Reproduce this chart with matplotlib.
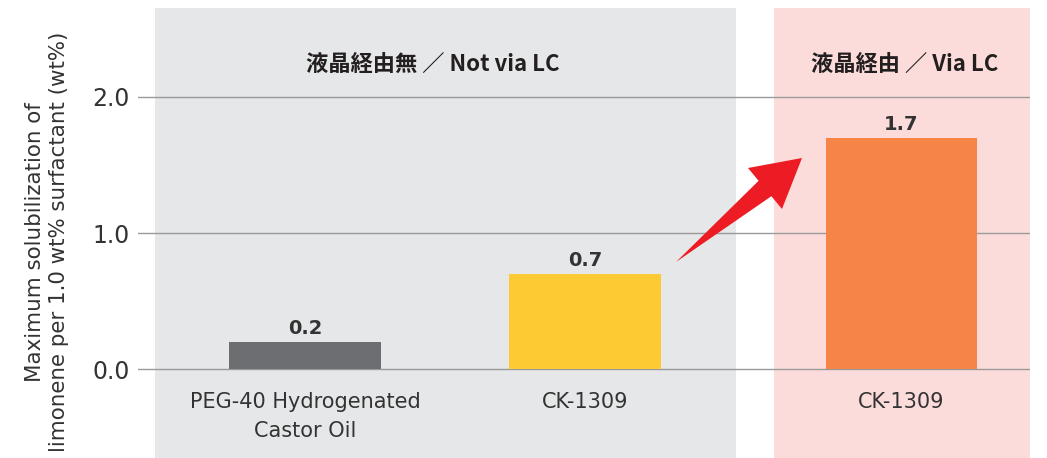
import matplotlib.pyplot as plt
from matplotlib.patches import Rectangle, Polygon
import matplotlib.transforms as mtransforms

plt.rcParams['font.family'] = ['DejaVu Sans']

# data
labels = ['PEG-40 Hydrogenated\nCastor Oil', 'CK-1309', 'CK-1309']
values = [0.2, 0.7, 1.7]
colors = ['#6d6e71', '#fdca34', '#f58446']
groups = ['液晶経由無 ／ Not via LC', '液晶経由 ／ Via LC']
yticks = [0.0, 1.0, 2.0]

# layout (category positions)
pos = [0, 1, 2.129]
width = 0.54

fig = plt.figure(figsize=(10.47, 4.58), dpi=100)
ax = fig.add_axes([138/1047, 0, (1030-138)/1047, 1])
ax.set_xlim(-0.596, 2.589)
ax.set_ylim(-0.654, 2.713)

# panels
ax.add_patch(Rectangle((-0.536, -0.7), 2.075, 3.354, color='#e6e7e8', zorder=0, lw=0))
ax.add_patch(Rectangle((1.675, -0.7), 0.92, 3.354, color='#fcdcda', zorder=0, lw=0))

for t in yticks:
    ax.axhline(t, color='#9a9a9a', lw=1, zorder=1)

ax.bar(pos, values, width=width, color=colors, zorder=2)

for x, v in zip(pos, values):
    ax.text(x, v + 0.03, f'{v:.1f}', ha='center', va='bottom', fontsize=14,
            fontweight='bold', color='#333333')

for x, lab in zip(pos, labels):
    ax.text(x, -0.17, lab, ha='center', va='top', fontsize=15, color='#333333',
            linespacing=1.55)

cjk = ['Noto Sans CJK JP', 'DejaVu Sans']
ax.text(0.457, 2.24, groups[0], ha='center', va='center', fontsize=16,
        fontweight='bold', color='#231f20', family=cjk)
ax.text(2.14, 2.24, groups[1], ha='center', va='center', fontsize=16,
        fontweight='bold', color='#231f20', family=cjk)

ax.set_yticks(yticks)
ax.set_yticklabels([f'{t:.1f}' for t in yticks], fontsize=17, color='#333333')
ax.tick_params(axis='y', length=0, pad=6)
ax.set_xticks([])
for s in ax.spines.values():
    s.set_visible(False)

fig.text(47/1047, 1 - 242/458,
         'Maximum solubilization of\nlimonene per 1.0 wt% surfactant (wt%)',
         rotation=90, ha='center', va='center', fontsize=15.4, color='#333333',
         linespacing=1.25)

# red arrow in image pixel coords
px = mtransforms.Affine2D().scale(1/1047, -1/458).translate(0, 1) + fig.transFigure
arrow = [(676, 262), (758.6, 180.8), (748, 168), (802, 158), (782, 209), (771.4, 196.2)]
fig.patches.append(Polygon(arrow, closed=True, color='#ed1c24', transform=px, lw=0))

plt.savefig('out.png', dpi=100)
